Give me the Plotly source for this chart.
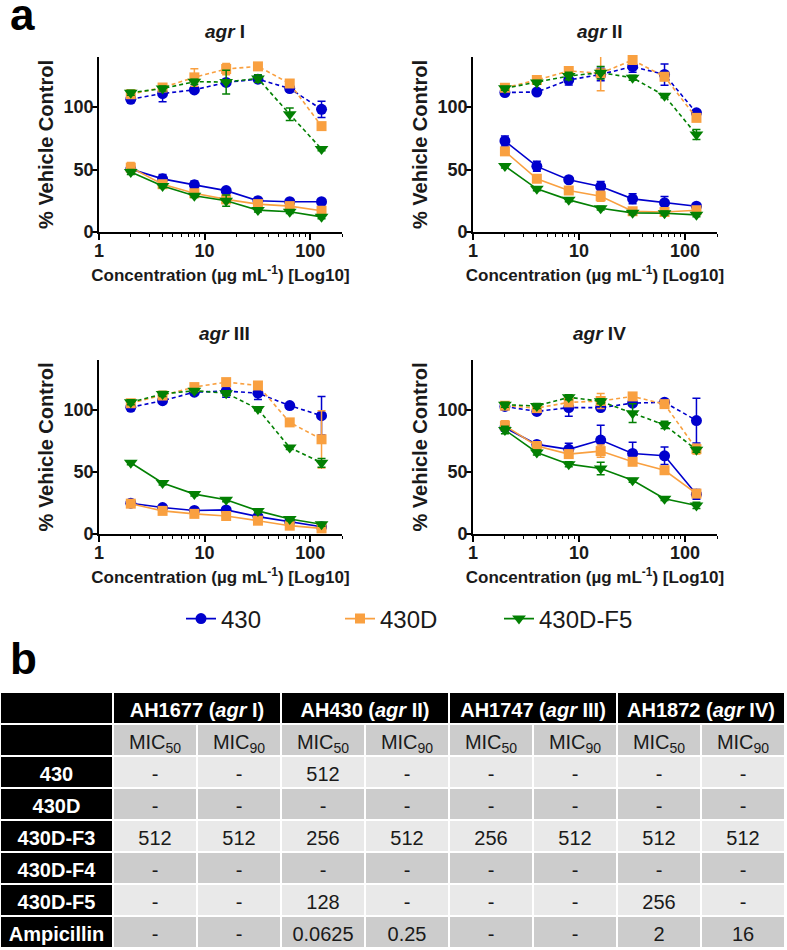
import plotly.graph_objects as go

# ---------------- data ----------------
conc = [2, 4, 8, 16, 32, 64, 128]
series_names = ["430", "430D", "430D-F5"]
series_colors = ["#0000CD", "#F9A040", "#038003"]
series_symbols = ["circle", "square", "triangle-down"]
series_sizes = [11, 10, 12]
panel_titles = ["<b><i>agr</i> I</b>", "<b><i>agr</i> II</b>", "<b><i>agr</i> III</b>", "<b><i>agr</i> IV</b>"]

# agr I
agr1_430_dash = [106.2, 110.8, 113.7, 119.7, 122.3, 114.8, 98.1]
agr1_430D_dash = [110.2, 115.6, 123.7, 130.4, 132.5, 118.8, 84.7]
agr1_F5_dash = [111.4, 114.8, 120.2, 120.0, 122.9, 94.1, 66.4]
agr1_430_solid = [50.3, 42.5, 37.7, 33.1, 25.0, 24.2, 24.2]
agr1_430D_solid = [51.5, 38.2, 31.0, 26.1, 22.3, 20.7, 17.0]
agr1_F5_solid = [48.0, 36.8, 29.0, 25.0, 17.5, 16.2, 12.1]
agr1_430_dash_err = [1.5, 6.5, 2, 2, 2.5, 2, 6.5]
agr1_430D_dash_err = [2, 2.5, 7, 4.5, 1.5, 2, 2]
agr1_F5_dash_err = [2, 2, 2, 9.5, 3, 5, 1.5]
agr1_430_solid_err = [2, 3.5, 3, 2, 1.5, 1.5, 1.5]
agr1_430D_solid_err = [4, 2, 2, 2.5, 1.5, 1.5, 1.5]
agr1_F5_solid_err = [2, 1.5, 1.5, 4.5, 1.5, 1.5, 1.5]

# agr II
agr2_430_dash = [111.6, 112.0, 121.6, 126.1, 132.3, 126.0, 95.3]
agr2_430D_dash = [115.4, 121.6, 128.8, 127.0, 137.6, 124.2, 91.3]
agr2_F5_dash = [115.0, 119.7, 124.8, 127.5, 123.4, 109.0, 77.9]
agr2_430_solid = [72.8, 52.5, 41.8, 36.4, 26.5, 23.3, 20.6]
agr2_430D_solid = [64.5, 42.6, 33.2, 28.6, 16.6, 16.0, 17.4]
agr2_F5_solid = [52.7, 34.5, 25.7, 19.0, 15.3, 15.0, 13.7]
agr2_430_dash_err = [1.5, 1.5, 4, 5, 4.5, 8.5, 2]
agr2_430D_dash_err = [2, 2, 3, 14, 2.5, 3, 2]
agr2_F5_dash_err = [1.5, 1.5, 3, 5, 2, 1.5, 4]
agr2_430_solid_err = [4, 4, 1.5, 4, 4, 5, 1.5]
agr2_430D_solid_err = [2, 1.5, 2, 4, 2, 2, 1.5]
agr2_F5_solid_err = [1.5, 1.5, 1.5, 1.5, 1.5, 1.5, 1.5]

# agr III
agr3_430_dash = [101.9, 107.3, 114.1, 115.0, 113.3, 103.3, 95.2]
agr3_430D_dash = [105.2, 111.4, 118.2, 122.2, 119.5, 89.8, 76.2]
agr3_F5_dash = [106.0, 112.7, 115.3, 113.3, 100.6, 69.5, 57.3]
agr3_430_solid = [24.8, 21.3, 18.9, 19.4, 14.0, 9.9, 5.8]
agr3_430D_solid = [24.4, 18.6, 16.2, 14.5, 10.7, 6.7, 4.5]
agr3_F5_solid = [57.3, 41.0, 32.1, 27.5, 18.6, 12.1, 7.8]
agr3_430_dash_err = [1.5, 1.5, 2, 5, 5, 1.5, 15.5]
agr3_430D_dash_err = [1.5, 2, 2, 2, 2, 2, 23]
agr3_F5_dash_err = [2, 2, 1.5, 2, 1.5, 1.5, 3.5]
agr3_430_solid_err = [1.5, 1.5, 1.5, 1.5, 1.5, 1.5, 1.5]
agr3_430D_solid_err = [1.5, 1.5, 1.5, 1.5, 1.5, 1.5, 1.5]
agr3_F5_solid_err = [1.5, 1.5, 1.5, 1.5, 1.5, 1.5, 1.5]

# agr IV
agr4_430_dash = [102.6, 98.6, 101.7, 101.7, 105.3, 106.0, 91.3]
agr4_430D_dash = [103.2, 101.3, 105.9, 107.0, 110.7, 104.5, 68.3]
agr4_F5_dash = [104.0, 103.0, 110.0, 106.8, 97.2, 87.8, 67.7]
agr4_430_solid = [85.6, 72.1, 68.1, 75.6, 64.8, 62.9, 31.9]
agr4_430D_solid = [87.2, 70.8, 64.3, 66.7, 58.1, 51.3, 32.5]
agr4_F5_solid = [83.7, 65.6, 56.2, 52.7, 43.2, 28.4, 23.0]
agr4_430_dash_err = [2, 1.5, 7, 2, 2, 1.5, 18]
agr4_430D_dash_err = [2, 2, 2, 6, 2, 2, 4]
agr4_F5_dash_err = [2, 2, 2, 2, 7.5, 3, 2]
agr4_430_solid_err = [3, 2, 5, 12, 9, 7, 4]
agr4_430D_solid_err = [4, 2, 2, 5, 2, 2, 2.5]
agr4_F5_solid_err = [3, 2, 2, 5, 1.5, 1.5, 2.5]

y_ticks = [0, 50, 100]
x_ticks = [1, 10, 100]

# table data
strains = ["AH1677 (<i>agr</i> I)", "AH430 (<i>agr</i> II)",
           "AH1747 (<i>agr</i> III)", "AH1872 (<i>agr</i> IV)"]
mic_labels = ["MIC<sub>50</sub>", "MIC<sub>90</sub>"]
compounds = ["430", "430D", "430D-F3", "430D-F4", "430D-F5", "Ampicillin"]
ah1677_mic50 = ["-", "-", "512", "-", "-", "-"]
ah1677_mic90 = ["-", "-", "512", "-", "-", "-"]
ah430_mic50 = ["512", "-", "256", "-", "128", "0.0625"]
ah430_mic90 = ["-", "-", "512", "-", "-", "0.25"]
ah1747_mic50 = ["-", "-", "256", "-", "-", "-"]
ah1747_mic90 = ["-", "-", "512", "-", "-", "-"]
ah1872_mic50 = ["-", "-", "512", "-", "256", "2"]
ah1872_mic90 = ["-", "-", "512", "-", "-", "16"]

# ---------------- figure ----------------
W, H = 787, 950
FONT = "Liberation Sans, Arial, sans-serif"
TXT = "#1a1a1a"

panels = [
    ([agr1_430_solid, agr1_430D_solid, agr1_F5_solid],
     [agr1_430_solid_err, agr1_430D_solid_err, agr1_F5_solid_err],
     [agr1_430_dash, agr1_430D_dash, agr1_F5_dash],
     [agr1_430_dash_err, agr1_430D_dash_err, agr1_F5_dash_err]),
    ([agr2_430_solid, agr2_430D_solid, agr2_F5_solid],
     [agr2_430_solid_err, agr2_430D_solid_err, agr2_F5_solid_err],
     [agr2_430_dash, agr2_430D_dash, agr2_F5_dash],
     [agr2_430_dash_err, agr2_430D_dash_err, agr2_F5_dash_err]),
    ([agr3_430_solid, agr3_430D_solid, agr3_F5_solid],
     [agr3_430_solid_err, agr3_430D_solid_err, agr3_F5_solid_err],
     [agr3_430_dash, agr3_430D_dash, agr3_F5_dash],
     [agr3_430_dash_err, agr3_430D_dash_err, agr3_F5_dash_err]),
    ([agr4_430_solid, agr4_430D_solid, agr4_F5_solid],
     [agr4_430_solid_err, agr4_430D_solid_err, agr4_F5_solid_err],
     [agr4_430_dash, agr4_430D_dash, agr4_F5_dash],
     [agr4_430_dash_err, agr4_430D_dash_err, agr4_F5_dash_err]),
]

# pixel boxes of the four plot areas (left, right, top, bottom)
boxes = [(99, 342, 57, 232), (473, 717, 57, 232),
         (99, 342, 360, 534), (473, 717, 360, 534)]

fig = go.Figure()

for p, (solids, solid_errs, dashes, dash_errs) in enumerate(panels):
    xa = "x" if p == 0 else f"x{p+1}"
    ya = "y" if p == 0 else f"y{p+1}"
    for kind, vals, errs in (("dash", dashes, dash_errs), ("solid", solids, solid_errs)):
        for s in range(3):
            fig.add_trace(go.Scatter(
                x=conc, y=vals[s], xaxis=xa, yaxis=ya,
                mode="lines+markers",
                name=series_names[s], legendgroup=series_names[s],
                showlegend=(p == 0 and kind == "solid"),
                line=dict(color=series_colors[s], width=1.6,
                          dash="4px,3px" if kind == "dash" else "solid"),
                marker=dict(symbol=series_symbols[s], size=series_sizes[s], color=series_colors[s]),
                error_y=dict(type="data", array=errs[s], visible=True,
                             color=series_colors[s], thickness=1.5, width=4),
                cliponaxis=False,
            ))

layout = dict(
    width=W, height=H, autosize=False,
    margin=dict(l=0, r=0, t=0, b=0, pad=0, autoexpand=False),
    paper_bgcolor="white", plot_bgcolor="white",
    font=dict(family=FONT, color=TXT),
    showlegend=True,
    legend=dict(orientation="h", x=181 / W, xanchor="left", y=1 - 619 / H, yanchor="middle",
                font=dict(size=24, family=FONT, color=TXT),
                entrywidth=114, entrywidthmode="pixels", tracegroupgap=0),
)

annotations = []
for p, (l, r, t, b) in enumerate(boxes):
    sfx = "" if p == 0 else str(p + 1)
    layout["xaxis" + sfx] = dict(
        domain=[l / W, r / W], anchor="y" + sfx, type="log", automargin=False,
        range=[0, 2.301], tickvals=x_ticks, ticktext=["<b>1</b>", "<b>10</b>", "<b>100</b>"],
        showline=True, linecolor="black", linewidth=1.6,
        ticks="outside", ticklen=6, tickwidth=1.6, tickcolor="black",
        minor=dict(ticks="outside", ticklen=3, tickwidth=1.3, tickcolor="black",
                   tickvals=[2, 3, 4, 5, 6, 7, 8, 9, 20, 30, 40, 50, 60, 70, 80, 90, 200]),
        tickfont=dict(size=18, family=FONT, color=TXT),
        ticklabelstandoff=-4,
        showgrid=False, zeroline=False,
        title=dict(text="<b>Concentration (µg mL<sup>-1</sup>) [Log10]</b>",
                   font=dict(size=17, family=FONT, color=TXT), standoff=9),
    )
    layout["yaxis" + sfx] = dict(
        domain=[1 - b / H, 1 - t / H], anchor="x" + sfx, automargin=False,
        range=[0, 140], tickvals=y_ticks, ticktext=["<b>0</b>", "<b>50</b>", "<b>100</b>"],
        showline=True, linecolor="black", linewidth=1.6,
        ticks="outside", ticklen=5, tickwidth=1.6, tickcolor="black",
        tickfont=dict(size=18, family=FONT, color=TXT),
        ticklabelstandoff=-5,
        showgrid=False, zeroline=False,
        title=dict(text="<b>% Vehicle Control</b>",
                   font=dict(size=20, family=FONT, color=TXT), standoff=5),
    )
    annotations.append(dict(
        text=panel_titles[p], x=((l + r) / 2 + 4) / W, y=1 - (t - 26) / H,
        xref="paper", yref="paper", xanchor="center", yanchor="middle",
        showarrow=False, font=dict(size=19, family=FONT, color=TXT)))

annotations.append(dict(text="<b>a</b>", x=8 / W, y=1 - 14 / H, xref="paper", yref="paper",
                        xanchor="left", yanchor="middle", showarrow=False,
                        font=dict(size=44, family=FONT, color="black")))
annotations.append(dict(text="<b>b</b>", x=8 / W, y=1 - 658 / H, xref="paper", yref="paper",
                        xanchor="left", yanchor="middle", showarrow=False,
                        font=dict(size=44, family=FONT, color="black")))
layout["annotations"] = annotations

# ---------------- table (heatmap bricks + text on a pixel-unit axis) ----------------
label_w, mic_w, row_h = 113, 84, 32
n_rows = 1 + len(compounds)           # MIC row + compound rows
table_w = label_w + 8 * mic_w
table_h = row_h * (1 + n_rows)        # group row + MIC row + compound rows
table_top = 692
text_drop = 4                         # text sits slightly low in its cell
light, dark = "#E9E9E9", "#CCCCCC"
scale = [[0, "black"], [0.5, light], [1, dark]]
TFONT = 20


def edges(widths, start=0):
    out = [start]
    for w in widths:
        out.append(out[-1] + w)
    return out


def centers(e):
    return [(a + b) / 2 for a, b in zip(e[:-1], e[1:])]


grp_edges = edges([label_w] + [2 * mic_w] * 4)
lab_edges = [0, label_w]
mic_edges = edges([mic_w] * 8, start=label_w)
row_edges = edges([row_h] * n_rows, start=row_h)

hm = dict(colorscale=scale, zmin=0, zmax=2, showscale=False, xgap=2, ygap=2,
          hoverinfo="skip", xaxis="x5", yaxis="y5")
fig.add_trace(go.Heatmap(x=grp_edges, y=[0, row_h], z=[[0] * 5], **hm))
fig.add_trace(go.Heatmap(x=lab_edges, y=row_edges, z=[[0] for _ in range(n_rows)], **hm))
cell_z = [[2] * 8] + [[1 if i % 2 == 0 else 2] * 8 for i in range(len(compounds))]
fig.add_trace(go.Heatmap(x=mic_edges, y=row_edges, z=cell_z, **hm))

# texts
txt = dict(mode="text", textposition="middle center", hoverinfo="skip",
           showlegend=False, cliponaxis=False, xaxis="x5", yaxis="y5")
gx = centers(grp_edges)[1:]
fig.add_trace(go.Scatter(x=gx, y=[row_h / 2 + text_drop] * 4,
                         text=[f"<b>{s}</b>" for s in strains],
                         textfont=dict(size=TFONT, family=FONT, color="white"), **txt))
rc = centers(row_edges)
fig.add_trace(go.Scatter(x=[label_w / 2] * len(compounds), y=[c + text_drop for c in rc[1:]],
                         text=[f"<b>{c}</b>" for c in compounds],
                         textfont=dict(size=TFONT, family=FONT, color="white"), **txt))
mic_cols = [ah1677_mic50, ah1677_mic90, ah430_mic50, ah430_mic90,
            ah1747_mic50, ah1747_mic90, ah1872_mic50, ah1872_mic90]
mx = centers(mic_edges)
cx, cy, ct = [], [], []
for j, col in enumerate(mic_cols):
    cx.append(mx[j]); cy.append(rc[0] + text_drop); ct.append(mic_labels[j % 2])
    for i, v in enumerate(col):
        cx.append(mx[j]); cy.append(rc[i + 1] + text_drop); ct.append(v)
fig.add_trace(go.Scatter(x=cx, y=cy, text=ct,
                         textfont=dict(size=TFONT, family=FONT, color=TXT), **txt))

layout["xaxis5"] = dict(domain=[0, table_w / W], range=[0, table_w], anchor="y5",
                        visible=False, fixedrange=True, automargin=False)
layout["yaxis5"] = dict(domain=[1 - (table_top + table_h) / H, 1 - table_top / H],
                        range=[table_h, 0], anchor="x5", visible=False, fixedrange=True,
                        automargin=False)

fig.update_layout(**layout)

fig.write_html("out.html", config={"displayModeBar": False},
               post_script="document.body.style.margin='0';")
